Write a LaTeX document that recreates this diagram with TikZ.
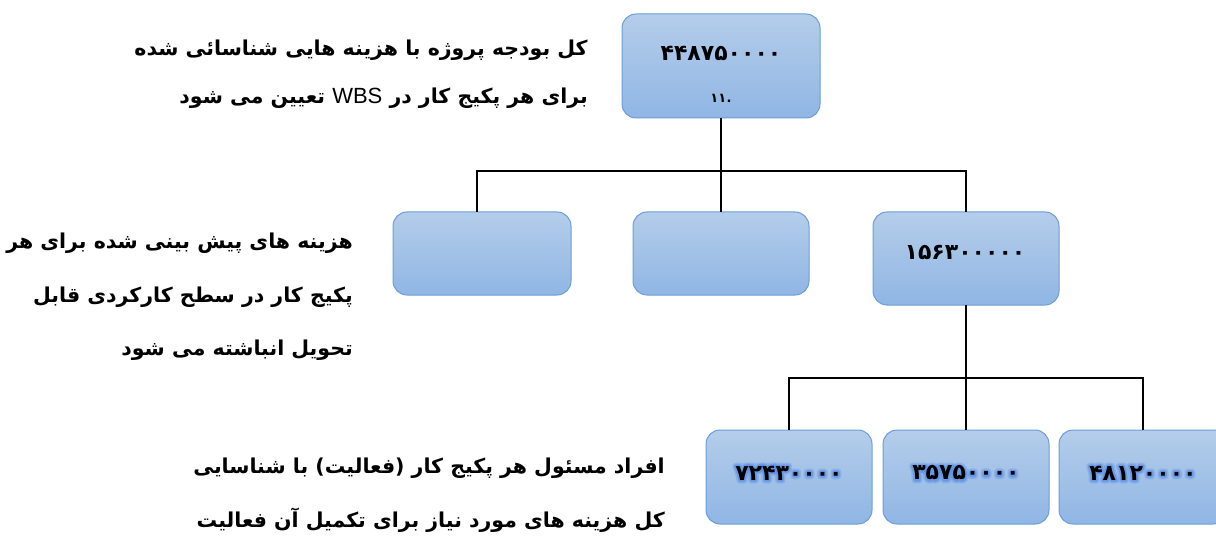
\documentclass[tikz,border=0pt]{standalone}
\usepackage{fontspec}
\newfontfamily\arabicfont[Script=Arabic]{DejaVu Sans}
\newfontfamily\latinsans{Liberation Sans}
\TeXXeTstate=1
\definecolor{boxtop}{RGB}{180,205,234}
\definecolor{boxbot}{RGB}{144,182,228}
\definecolor{boxedge}{RGB}{108,158,214}
\tikzset{
  wbsbox/.style={draw=boxedge, line width=1pt, rounded corners=14pt,
    top color=boxtop, bottom color=boxbot, inner sep=0pt, outer sep=0pt},
  conn/.style={draw=black, line width=2pt},
  numtxt/.style={font=\arabicfont\bfseries\fontsize{22}{26}\selectfont, inner sep=0pt},
  desc/.style={font=\arabicfont\bfseries\fontsize{20.5}{24}\selectfont, anchor=east, inner sep=0pt},
}
% glow: stroke-only copy of the text behind the black text
\newcommand\strokeon[1]{\special{pdf:literal direct 1 Tr #1 w 1 j 1 J 0.31 0.53 0.90 RG}}
\newcommand\strokeoff{\special{pdf:literal direct 0 Tr}}
\newcommand\glowtext[4]{%
  \node[numtxt, opacity=0.3] (#1g) at (#2,#3) {\strokeon{7}#4\strokeoff};
  \node[numtxt, opacity=0.55] (#1h) at (#2,#3) {\strokeon{3.5}#4\strokeoff};
  \node[numtxt] (#1) at (#2,#3) {#4};
}
\begin{document}
\begin{tikzpicture}[x=1pt,y=-1pt]
\useasboundingbox (0,0) rectangle (1216,540);
% boxes
\node[wbsbox, minimum width=198pt, minimum height=104pt] (top) at (721,66) {};
\node[wbsbox, minimum width=178pt, minimum height=83pt] (m1) at (482,253.5) {};
\node[wbsbox, minimum width=176pt, minimum height=83pt] (m2) at (721,253.5) {};
\node[wbsbox, minimum width=186pt, minimum height=93pt] (m3) at (966,258.5) {};
\node[wbsbox, minimum width=166pt, minimum height=94pt] (b1) at (789,477) {};
\node[wbsbox, minimum width=166pt, minimum height=94pt] (b2) at (966,477) {};
\node[wbsbox, minimum width=168pt, minimum height=94pt] (b3) at (1143,477) {};
% connectors
\draw[conn] (top.south) -- (m2.north);
\draw[conn] ([xshift=-5pt]m1.north) -- ++(0,-41) -| (m3.north);
\draw[conn] (m3.south) -- (b2.north);
\draw[conn] (b1.north) -- ++(0,-52) -| (b3.north);
% numbers
\node[numtxt] (n0) at (721,53) {۴۴۸۷۵۰۰۰۰};
\node[numtxt, font=\arabicfont\bfseries\fontsize{13}{15}\selectfont] (n0s) at (721,98) {۱۱\kern0.5pt.};
\node[numtxt] (n3) at (965,252) {۱۵۶۳۰۰۰۰۰};
\node[font=\fontsize{5}{6}\selectfont, text=gray, inner sep=0pt] (n3s) at (963,291) {..};
\glowtext{nb1}{789}{473}{۷۲۴۳۰۰۰۰}
\glowtext{nb2}{966}{473}{۳۵۷۵۰۰۰۰}
\glowtext{nb3}{1143}{473}{۴۸۱۲۰۰۰۰}
% descriptions
\node[desc] (d1a) at (588,50) {\beginR کل بودجه پروژه با هزینه هایی شناسائی شده\endR};
\node[desc] (d1b) at (588,98) {\beginR برای هر پکیج کار در {\latinsans\mdseries\fontsize{22}{24}\selectfont\beginL WBS\endL} تعیین می شود\endR};
\node[desc] (d2a) at (353,243) {\beginR هزینه های پیش بینی شده برای هر\endR};
\node[desc] (d2b) at (353,297) {\beginR پکیج کار در سطح کارکردی قابل\endR};
\node[desc] (d2c) at (353,350) {\beginR تحویل انباشته می شود\endR};
\node[desc] (d3a) at (665,468) {\beginR افراد مسئول هر پکیج کار (فعالیت) با شناسایی\endR};
\node[desc] (d3b) at (665,520) {\beginR کل هزینه های مورد نیاز برای تکمیل آن فعالیت\endR};
\end{tikzpicture}
\end{document}
